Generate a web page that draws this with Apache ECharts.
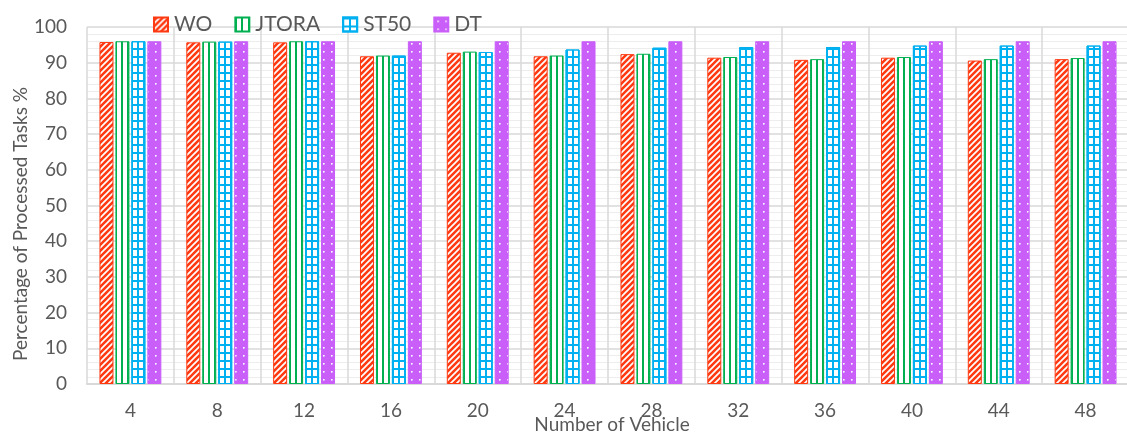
<!DOCTYPE html>
<html>
<head>
<meta charset="utf-8">
<style>
  html, body { margin: 0; padding: 0; background: #ffffff; }
  #chart { width: 1127px; height: 434px; }
</style>
<script src="https://cdn.jsdelivr.net/npm/echarts@6/dist/echarts.min.js"></script>
</head>
<body>
<div id="chart"></div>
<script>
// Number of vehicles on the x axis
const vehicles = ['4', '8', '12', '16', '20', '24', '28', '32', '36', '40', '44', '48'];

// Percentage of processed tasks for each method
const woValues    = [95.8, 95.7, 95.7, 91.8, 92.8, 91.8, 92.4, 91.4, 90.8, 91.4, 90.6, 91.0];
const jtoraValues = [96.0, 95.9, 96.0, 92.0, 93.1, 92.0, 92.5, 91.6, 91.0, 91.6, 91.0, 91.3];
const st50Values  = [96.0, 95.9, 96.0, 92.0, 93.0, 93.7, 94.2, 94.4, 94.4, 94.8, 94.8, 94.8];
const dtValues    = [96.0, 96.0, 96.0, 96.0, 96.0, 96.0, 96.0, 96.0, 96.0, 96.0, 96.0, 96.0];

// Y axis ticks
const yMin = 0, yMax = 100, yStep = 10;

const RED = '#FF3A12', GREEN = '#00B050', BLUE = '#00B0F0', PURPLE = '#C95EF9';
const FONT = 'Lato, "Open Sans", sans-serif';
const TEXT = '#595959';

// Diagonal red/white stripes
function stripeCanvas() {
  const c = document.createElement('canvas');
  c.width = 6; c.height = 6;
  const g = c.getContext('2d');
  g.fillStyle = RED; g.fillRect(0, 0, 6, 6);
  g.strokeStyle = '#ffffff'; g.lineWidth = 1.7;
  g.beginPath();
  g.moveTo(-1, 7); g.lineTo(7, -1);
  g.moveTo(-1, 1); g.lineTo(1, -1);
  g.moveTo(5, 7); g.lineTo(7, 5);
  g.stroke();
  return c;
}

// Purple with small white dots
function dotCanvas() {
  const c = document.createElement('canvas');
  c.width = 8; c.height = 8;
  const g = c.getContext('2d');
  g.fillStyle = PURPLE; g.fillRect(0, 0, 8, 8);
  g.fillStyle = '#ffffff'; g.fillRect(3, 3, 1.6, 1.6);
  return c;
}

// Vertical stripes that follow each bar's own box
function vStripes(col) {
  return {
    type: 'linear', x: 0, y: 0, x2: 1, y2: 0,
    colorStops: [
      { offset: 0, color: col }, { offset: 0.14, color: col },
      { offset: 0.14, color: '#ffffff' }, { offset: 0.43, color: '#ffffff' },
      { offset: 0.43, color: col }, { offset: 0.57, color: col },
      { offset: 0.57, color: '#ffffff' }, { offset: 0.86, color: '#ffffff' },
      { offset: 0.86, color: col }, { offset: 1, color: col }
    ]
  };
}

const chart = echarts.init(document.getElementById('chart'), null, { renderer: 'canvas' });

const barCommon = { type: 'bar', barWidth: 14, barGap: '14%' };

chart.setOption({
  animation: false,
  backgroundColor: '#ffffff',
  textStyle: { fontFamily: FONT },
  legend: {
    left: 148, top: 9,
    itemWidth: 14, itemHeight: 14, itemGap: 22,
    icon: 'rect',
    textStyle: { fontFamily: FONT, fontSize: 21, color: TEXT, padding: [0, 0, 0, 1] },
    data: ['WO', 'JTORA', 'ST50', 'DT']
  },
  grid: { left: 87, right: -2, top: 27, bottom: 50, outerBoundsMode: 'none', containLabel: false },
  xAxis: {
    type: 'category',
    data: vehicles,
    axisLine: { show: true, lineStyle: { color: '#D9D9D9', width: 2 } },
    axisTick: { show: false },
    axisLabel: { fontFamily: FONT, fontSize: 19, color: TEXT, margin: 17 },
    splitLine: { show: true, interval: 0, lineStyle: { color: '#D9D9D9', width: 1.5 } }
  },
  yAxis: {
    type: 'value',
    min: yMin, max: yMax, interval: yStep,
    axisLine: { show: false },
    axisTick: { show: false },
    axisLabel: { fontFamily: FONT, fontSize: 19, color: TEXT, margin: 20 },
    splitLine: { show: true, lineStyle: { color: '#D9D9D9', width: 1.5 } },
    minorTick: { show: false, splitNumber: 5 },
    minorSplitLine: { show: true, lineStyle: { color: '#EDEDED', width: 1 } }
  },
  graphic: [{
    type: 'text',
    x: 21, y: 224,
    rotation: Math.PI / 2,
    style: {
      text: 'Percentage of Processed Tasks %',
      fontFamily: FONT, fontSize: 19, fill: TEXT,
      align: 'center', verticalAlign: 'middle'
    }
  }, {
    type: 'text',
    x: 612, y: 425,
    style: {
      text: 'Number of Vehicle',
      fontFamily: FONT, fontSize: 19, fill: TEXT,
      align: 'center', verticalAlign: 'middle'
    }
  }],
  series: [
    Object.assign({}, barCommon, {
      name: 'WO', data: woValues,
      itemStyle: { color: { image: stripeCanvas(), repeat: 'repeat' }, borderColor: RED, borderWidth: 1 }
    }),
    Object.assign({}, barCommon, {
      name: 'JTORA', data: jtoraValues,
      itemStyle: { color: vStripes(GREEN), borderColor: GREEN, borderWidth: 1 }
    }),
    Object.assign({}, barCommon, {
      name: 'ST50', data: st50Values,
      itemStyle: {
        color: vStripes(BLUE), borderColor: BLUE, borderWidth: 1,
        decal: { symbol: 'rect', symbolSize: 1, color: BLUE, dashArrayX: [1, 0], dashArrayY: [1.5, 5.5] }
      }
    }),
    Object.assign({}, barCommon, {
      name: 'DT', data: dtValues,
      itemStyle: { color: { image: dotCanvas(), repeat: 'repeat' }, borderColor: PURPLE, borderWidth: 1 }
    })
  ]
});
</script>
</body>
</html>
